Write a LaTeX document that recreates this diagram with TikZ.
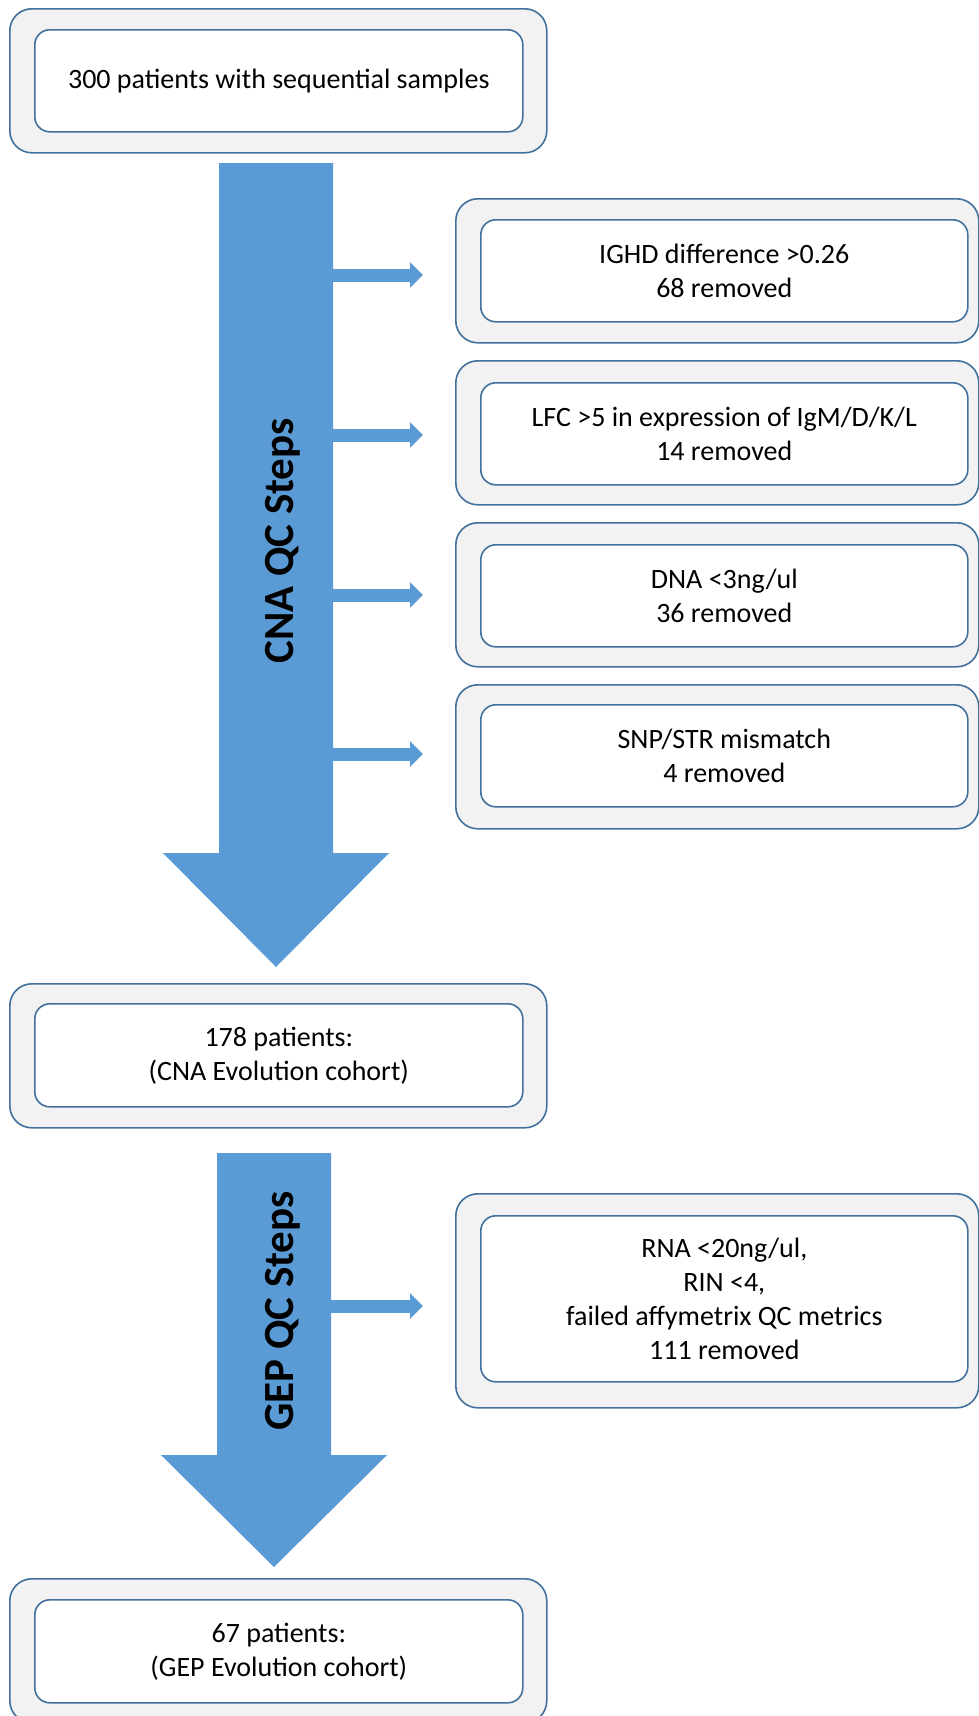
\documentclass[tikz,border=0pt]{standalone}
\usepackage{fontspec}
\setmainfont{Carlito}
\usetikzlibrary{arrows.meta}
\definecolor{arrowblue}{HTML}{5B9BD5}
\definecolor{edgeblue}{HTML}{41719C}
\definecolor{panel}{HTML}{F2F2F2}
\begin{document}
\begin{tikzpicture}[x=1pt,y=1pt,
  outerbox/.style={draw=edgeblue, fill=panel, line width=1.6pt, rounded corners=22pt, rectangle, inner sep=0pt, anchor=north west},
  innerbox/.style={draw=edgeblue, fill=white, line width=1.6pt, rounded corners=15pt, rectangle, inner sep=0pt, anchor=north west},
  txt/.style={align=center, font=\fontsize{28}{34}\selectfont, text=black},
  steplabel/.style={rotate=90, anchor=base, font=\fontsize{43}{50}\selectfont\bfseries, text=black},
  side/.style={draw=arrowblue, line width=13pt, -{Triangle[length=13pt,width=25pt]}, shorten >=32pt},
  bigarrow/.style={fill=arrowblue},
]
\useasboundingbox (0,0) rectangle (979,-1716);

% big arrows
\fill[bigarrow] (219,-163) -- (333,-163) -- (333,-853) -- (389,-853) -- (276,-967) -- (163,-853) -- (219,-853) -- cycle;
\fill[bigarrow] (217,-1153) -- (331,-1153) -- (331,-1455) -- (387,-1455) -- (274,-1567) -- (161,-1455) -- (217,-1455) -- cycle;

\node[steplabel] (cnalabel) at (293,-541) {CNA QC Steps};
\node[steplabel] (geplabel) at (293,-1311) {GEP QC Steps};

% top box
\node[outerbox, minimum width=537pt, minimum height=144pt] (topo) at (9,-8) {};
\node[innerbox, minimum width=488pt, minimum height=102pt] (topi) at (34,-29) {};
\node[txt] (toptext) at (topi.center) {300 patients with sequential samples};

% right boxes
\node[outerbox, minimum width=523pt, minimum height=144pt] (r1o) at (455,-198) {};
\node[innerbox, minimum width=487pt, minimum height=102pt] (r1i) at (480,-219) {};
\node[txt] (r1t) at (r1i.center) {IGHD difference >0.26\\68 removed};

\node[outerbox, minimum width=523pt, minimum height=144pt] (r2o) at (455,-360) {};
\node[innerbox, minimum width=487pt, minimum height=102pt] (r2i) at (480,-382) {};
\node[txt] (r2t) at (r2i.center) {LFC >5 in expression of IgM/D/K/L\\14 removed};

\node[outerbox, minimum width=523pt, minimum height=144pt] (r3o) at (455,-522) {};
\node[innerbox, minimum width=487pt, minimum height=102pt] (r3i) at (480,-544) {};
\node[txt] (r3t) at (r3i.center) {DNA <3ng/ul\\36 removed};

\node[outerbox, minimum width=523pt, minimum height=144pt] (r4o) at (455,-684) {};
\node[innerbox, minimum width=487pt, minimum height=102pt] (r4i) at (480,-704) {};
\node[txt] (r4t) at (r4i.center) {SNP/STR mismatch\\4 removed};

% CNA cohort box
\node[outerbox, minimum width=537pt, minimum height=144pt] (cnao) at (9,-983) {};
\node[innerbox, minimum width=488pt, minimum height=103pt] (cnai) at (34,-1003) {};
\node[txt] (cnat) at (cnai.center) {178 patients:\\(CNA Evolution cohort)};

% RNA box
\node[outerbox, minimum width=523pt, minimum height=214pt] (r5o) at (455,-1193) {};
\node[innerbox, minimum width=487pt, minimum height=166pt] (r5i) at (480,-1215) {};
\node[txt] (r5t) at (r5i.center) {RNA <20ng/ul,\\RIN <4,\\failed affymetrix QC metrics\\111 removed};

% GEP cohort box
\node[outerbox, minimum width=537pt, minimum height=144pt] (gepo) at (9,-1578) {};
\node[innerbox, minimum width=488pt, minimum height=103pt] (gepi) at (34,-1599) {};
\node[txt] (gept) at (gepi.center) {67 patients:\\(GEP Evolution cohort)};

% side arrows
\coordinate (s1) at (333,-275);
\coordinate (s2) at (333,-435);
\coordinate (s3) at (333,-595);
\coordinate (s4) at (333,-754);
\coordinate (s5) at (331,-1306);
\draw[side] (s1) -- (s1 -| r1o.west);
\draw[side] (s2) -- (s2 -| r2o.west);
\draw[side] (s3) -- (s3 -| r3o.west);
\draw[side] (s4) -- (s4 -| r4o.west);
\draw[side] (s5) -- (s5 -| r5o.west);
\end{tikzpicture}
\end{document}
